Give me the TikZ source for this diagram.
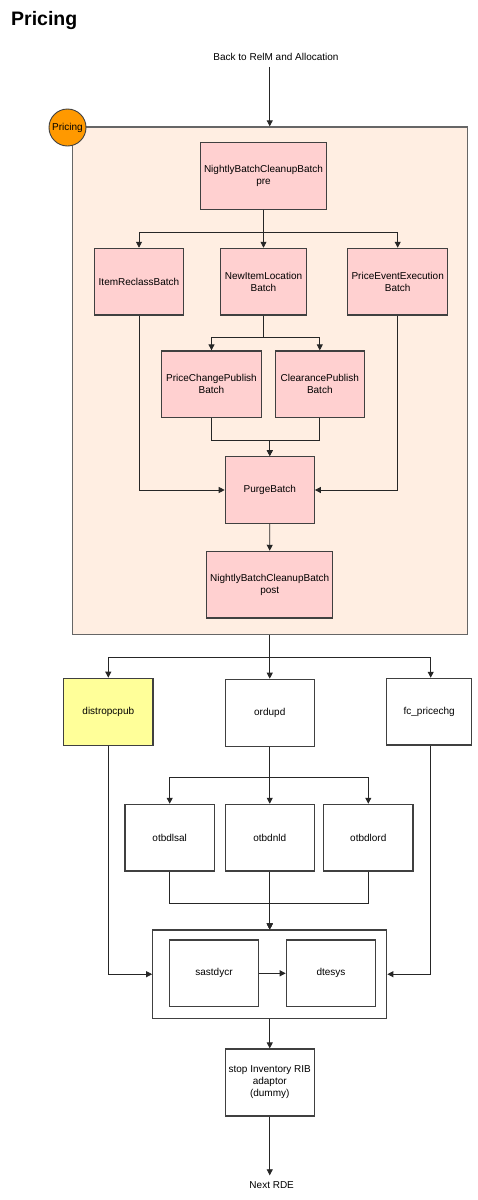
\documentclass[tikz,border=0pt]{standalone}
\usepackage{fontspec}
\setmainfont{Liberation Sans}
\usetikzlibrary{arrows.meta}
\definecolor{peach}{HTML}{FFEEE2}
\definecolor{pinkfill}{HTML}{FFD0D0}
\definecolor{yellowfill}{HTML}{FFFF99}
\definecolor{orangefill}{HTML}{FF9900}
\definecolor{edge}{HTML}{404040}
\definecolor{contedge}{HTML}{666666}
\tikzset{
  lbl/.style={font=\fontsize{10}{11}\selectfont, align=center, inner sep=1pt},
  boxbase/.style={draw=edge, line width=1.2pt, inner sep=0pt, align=center,
    font=\fontsize{10}{12}\selectfont},
  pbox/.style={boxbase, fill=pinkfill},
  wbox/.style={boxbase, fill=white},
  ybox/.style={boxbase, fill=yellowfill},
  arr/.style={draw=black!85, line width=0.8pt, -{Triangle[length=6pt,width=6pt]}},
}
\begin{document}
\begin{tikzpicture}[x=1pt,y=-1pt]
\useasboundingbox (0,0) rectangle (477,1200);
% title
\node[anchor=west, font=\bfseries\fontsize{19.5}{22}\selectfont, inner sep=0pt] (title) at (11,20) {Pricing};
\node[lbl] (back) at (276,57) {Back to RelM and Allocation};
% container
\node[draw=contedge, fill=peach, line width=1.3pt, minimum width=395pt, minimum height=507.5pt, inner sep=0pt] (cont) at (269.75,380.75) {};
\node[draw=edge, fill=orangefill, line width=0.9pt, circle, minimum size=37pt, inner sep=0pt, font=\fontsize{10}{11}\selectfont] (pc) at (67.5,127.5) {Pricing};
\draw[arr] ([yshift=-5pt]back.south -| cont.north) -- (cont.north);
% pricing boxes
\node[pbox, minimum width=126pt, minimum height=66.6pt] (n1) at (263.5,176) {NightlyBatchCleanupBatch\\pre};
\node[pbox, minimum width=88.6pt, minimum height=66.7pt] (ir) at (139,281.7) {ItemReclassBatch};
\node[pbox, minimum width=86pt, minimum height=66.7pt] (nil) at (263.5,281.7) {NewItemLocation\\Batch};
\node[pbox, minimum width=100pt, minimum height=66.7pt] (pee) at (397.7,281.7) {PriceEventExecution\\Batch};
\node[pbox, minimum width=100.4pt, minimum height=66.7pt] (pcp) at (211.5,384.3) {PriceChangePublish\\Batch};
\node[pbox, minimum width=89pt, minimum height=66.7pt] (cp) at (319.8,384.3) {ClearancePublish\\Batch};
\node[pbox, minimum width=89pt, minimum height=66.7pt] (purge) at (269.8,490) {PurgeBatch};
\node[pbox, minimum width=126pt, minimum height=66.7pt] (n2) at (269.7,584.7) {NightlyBatchCleanupBatch\\post};
% pricing connectors
\draw[arr] (n1.south) -- ++(0,22.5) -| (ir.north);
\draw[arr] (n1.south) -- (nil.north);
\draw[arr] (n1.south) -- ++(0,22.5) -| (pee.north);
\draw[arr] (nil.south) -- ++(0,21.7) -| (pcp.north);
\draw[arr] (nil.south) -- ++(0,21.7) -| (cp.north);
\draw[arr] (pcp.south) -- ++(0,22.3) -| (purge.north);
\draw[arr] (cp.south) -- ++(0,22.3) -| (purge.north);
\draw[arr] (ir.south) |- (purge.west);
\draw[arr] (pee.south) |- (purge.east);
\draw[arr] (purge.south) -- (n2.north);
% lower boxes
\node[ybox, minimum width=89.3pt, minimum height=67.4pt] (dp) at (108.3,712) {distropcpub};
\node[wbox, minimum width=89pt, minimum height=67pt] (ord) at (269.75,712.8) {ordupd};
\node[wbox, minimum width=85pt, minimum height=66.7pt] (fc) at (429.2,711.7) {fc\_pricechg};
\node[wbox, minimum width=89.3pt, minimum height=66.7pt] (sal) at (169.7,837.7) {otbdlsal};
\node[wbox, minimum width=89pt, minimum height=66.7pt] (nld) at (269.75,837.7) {otbdnld};
\node[wbox, minimum width=89.3pt, minimum height=66.7pt] (lord) at (368.3,837.7) {otbdlord};
\node[wbox, minimum width=234pt, minimum height=88.3pt] (grp) at (269.75,974.2) {};
\node[wbox, minimum width=89.4pt, minimum height=66.7pt] (sas) at (214,973.3) {sastdycr};
\node[wbox, minimum width=89.4pt, minimum height=66.7pt] (dte) at (331,973.3) {dtesys};
\node[wbox, minimum width=89.3pt, minimum height=67pt] (stop) at (269.75,1082.5) {stop Inventory RIB\\adaptor\\(dummy)};
\node[lbl] (next) at (271.7,1185) {Next RDE};
% lower connectors
\draw[arr] (cont.south) -- ++(0,22.2) -| (dp.north);
\draw[arr] (cont.south) -- (ord.north);
\draw[arr] (cont.south) -- ++(0,22.2) -| ([xshift=1.5pt]fc.north);
\draw[arr] (ord.south) -- ++(0,30.4) -| (sal.north);
\draw[arr] (ord.south) -- (nld.north);
\draw[arr] (ord.south) -- ++(0,30.4) -| (lord.north);
\draw[arr] (sal.south) -- ++(0,31.3) -| (grp.north);
\draw[arr] (nld.south) -- (grp.north);
\draw[arr] (lord.south) -- ++(0,31.3) -| (grp.north);
\draw[arr] (sas.east) -- (dte.west);
\draw[arr] (dp.south) |- (grp.west);
\draw[arr] ([xshift=1.5pt]fc.south) |- (grp.east);
\draw[arr] (grp.south) -- (stop.north);
\draw[arr] (stop.south) -- ([yshift=5pt]stop.south |- next.north);
\end{tikzpicture}
\end{document}
